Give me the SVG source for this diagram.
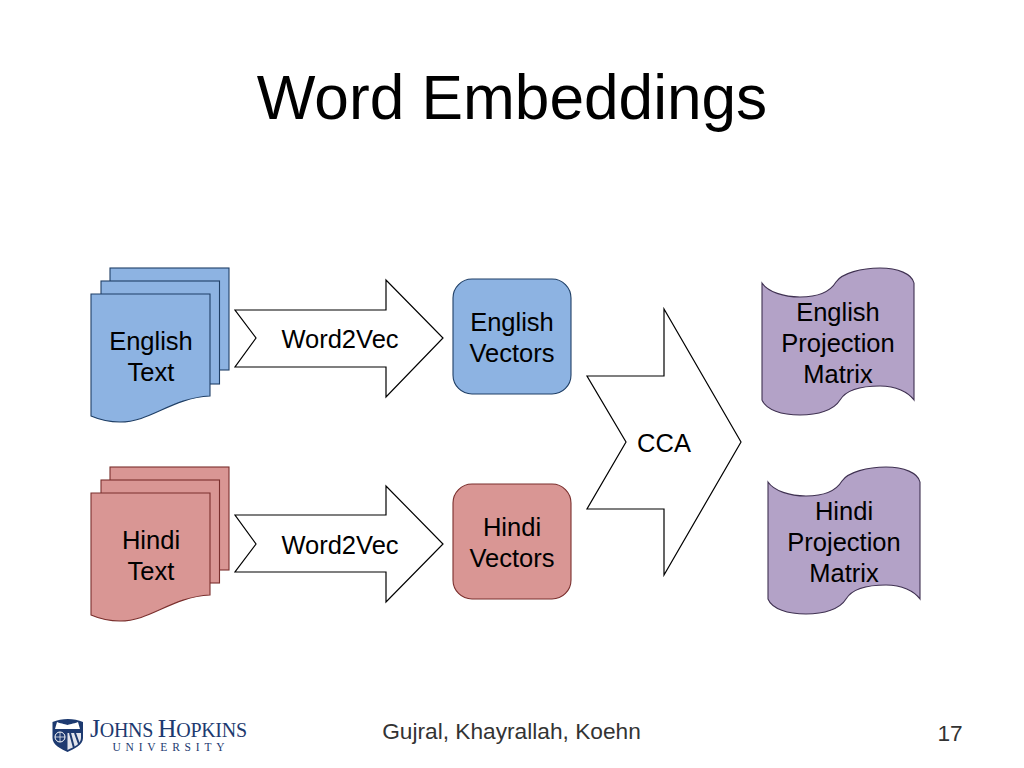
<svg xmlns="http://www.w3.org/2000/svg" width="1024" height="768" viewBox="0 0 1024 768">
<style>
text{font-family:"Liberation Sans",Arial,sans-serif;fill:#000;text-anchor:middle}
.t{font-size:25.500px}
.blue{fill:#8db3e2;stroke:#1f3f66;stroke-width:1.1}
.red{fill:#d99694;stroke:#7a2f2d;stroke-width:1.1}
.pur{fill:#b3a2c7;stroke:#3f3151;stroke-width:1.1}
.arr{fill:#fff;stroke:#000;stroke-width:1.2}
.serif{font-family:"Liberation Serif",serif;fill:#1d3a70}
</style>
<defs>
<path id="doc" d="M0 0H119V102C80 104 60 128 29 128C17 128 7 125 0 122Z"/>
<path id="ban" d="M0 15C6 24 22 29 38 29C56 29 68 24 74 14C80 5 100 0 118 0C136 0 150 6 152 15V132C146 124 134 118 118 118C100 118 84 122 78 132C72 142 56 147 38 147C20 147 4 142 0 132Z"/>
</defs>
<rect width="1024" height="768" fill="#fff"/>
<text id="title" x="512" y="119" style="font-size:62.200px">Word Embeddings</text>
<g id="english-text">
<rect class="blue" x="110" y="268" width="119" height="102"/>
<rect class="blue" x="101" y="281" width="118.500" height="103"/>
<use href="#doc" class="blue" x="91" y="294"/>
<text class="t" x="151" y="350">English</text><text class="t" x="151" y="381">Text</text>
</g>
<g id="hindi-text">
<rect class="red" x="110" y="467" width="119" height="103"/>
<rect class="red" x="101" y="480" width="118.500" height="103"/>
<use href="#doc" class="red" x="91" y="493"/>
<text class="t" x="151" y="549">Hindi</text><text class="t" x="151" y="580">Text</text>
</g>
<g id="english-vectors">
<rect class="blue" x="453" y="279" width="118" height="115" rx="19"/>
<text class="t" x="512" y="331">English</text><text class="t" x="512" y="362">Vectors</text>
</g>
<g id="hindi-vectors">
<rect class="red" x="453" y="484" width="118" height="115" rx="19"/>
<text class="t" x="512" y="536">Hindi</text><text class="t" x="512" y="567">Vectors</text>
</g>
<g id="english-projection">
<use href="#ban" class="pur" x="762" y="268"/>
<text class="t" x="838" y="321">English</text><text class="t" x="838" y="352">Projection</text><text class="t" x="838" y="383">Matrix</text>
</g>
<g id="hindi-projection">
<use href="#ban" class="pur" x="768" y="467"/>
<text class="t" x="844" y="520">Hindi</text><text class="t" x="844" y="551">Projection</text><text class="t" x="844" y="582">Matrix</text>
</g>
<g id="connectors">
<path class="arr" d="M235 310H386V280L443 338L386 397V367H235L256 338Z"/>
<text class="t" x="340" y="348">Word2Vec</text>
<path class="arr" d="M235 515H386V486L443 544L386 602V572H235L256 544Z"/>
<text class="t" x="340" y="554">Word2Vec</text>
<path class="arr" d="M587 376H664V309L741 442L664 575V509H587L626 442Z"/>
<text class="t" x="664" y="452">CCA</text>
</g>
<g id="logo">
<path d="M52.500 722C62 718 74 718 83 722V738C83 745 74 749 67.500 752C61 749 52.500 745 52.500 738Z" fill="#1d3a70"/>
<path d="M57 722C62 724 66 724 67.500 725C69 724 73 724 78 722L80 729H55Z" fill="#fff"/>
<path d="M67.500 733H81V738C81 744 74 747 67.500 750Z" fill="#e2e5ec"/>
<path d="M70 733L74 748M75 733L79 744" stroke="#1d3a70" stroke-width="2"/>
<circle cx="60" cy="737" r="5" fill="none" stroke="#fff"/>
<path d="M55 737H65M60 732V742" stroke="#fff" stroke-width=".7"/>
<text class="serif" x="168.500" y="737" textLength="157" lengthAdjust="spacing" style="font-size:20px"><tspan style="font-size:26px">J</tspan>OHNS <tspan style="font-size:26px">H</tspan>OPKINS</text>
<text class="serif" x="168.500" y="751" textLength="112" lengthAdjust="spacing" style="font-size:11.500px">UNIVERSITY</text>
</g>
<text id="footer" x="511.500" y="739" style="font-size:22.700px;fill:#333">Gujral, Khayrallah, Koehn</text>
<text id="page" x="950" y="741" style="font-size:22.700px;fill:#333">17</text>
</svg>
